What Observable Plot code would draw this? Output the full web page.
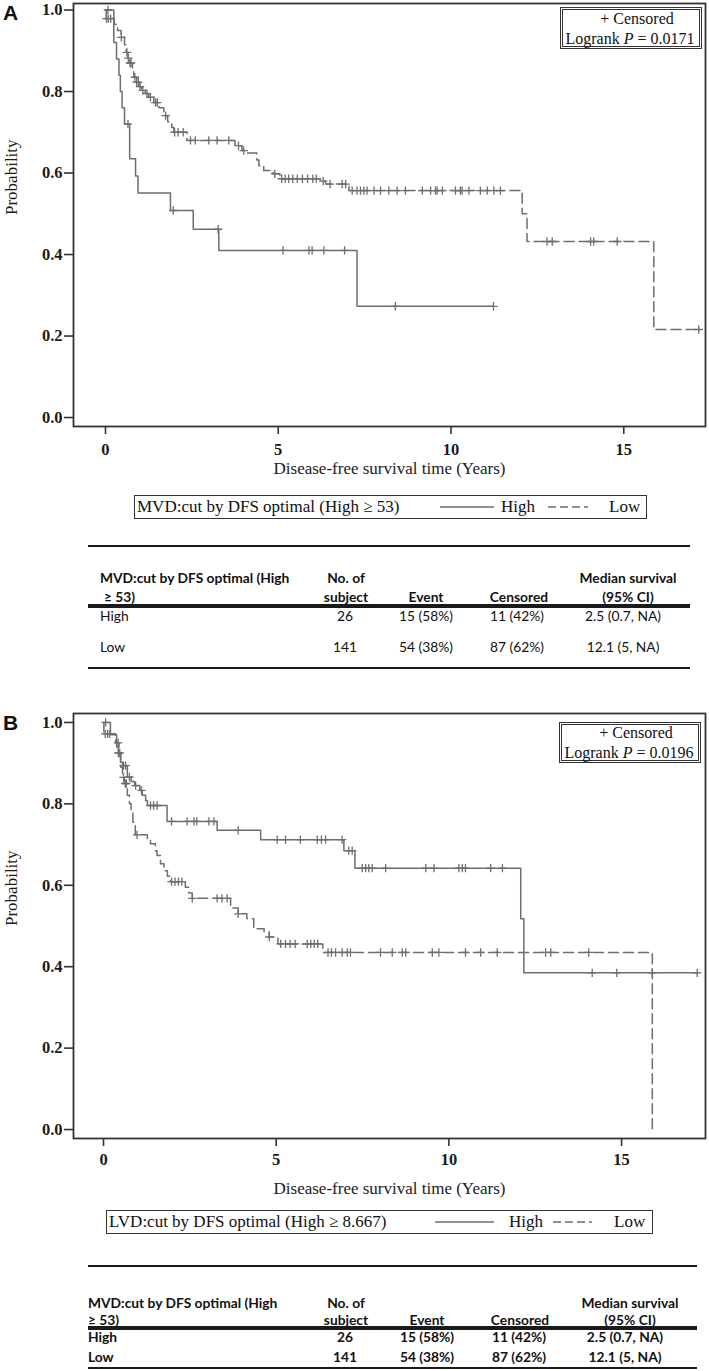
<!DOCTYPE html>
<html>
<head>
<meta charset="utf-8">
<script src="https://cdn.jsdelivr.net/npm/d3@7"></script>
<script src="https://cdn.jsdelivr.net/npm/@observablehq/plot@0.6"></script>
<style>
  body { margin: 0; background: #fff; }
  #page { position: relative; width: 709px; height: 1371px; overflow: hidden; background: #fff; color: #111; }
  .lbl { position: absolute; white-space: nowrap; line-height: 1.2; }
  .rule { position: absolute; background: #1a1a1a; }
  .box { position: absolute; box-sizing: border-box; }
</style>
</head>
<body>
<div id="page"></div>
<script>
// ---------------- DATA ----------------
// Axis ticks and titles
const xTicks = [0, 5, 10, 15];
const yTicks = [0, 0.2, 0.4, 0.6, 0.8, 1.0];
const xTitle = "Disease-free survival time (Years)";
const yTitle = "Probability";

// Panel A (MVD) – Kaplan–Meier steps: time (years) and survival probability
const aHighTimes = [0, 0.24, 0.32, 0.39, 0.43, 0.48, 0.55, 0.70, 0.87, 0.94, 1.88, 2.54, 3.28, 7.28];
const aHighSurv  = [1, 0.92, 0.88, 0.84, 0.80, 0.76, 0.72, 0.635, 0.593, 0.551, 0.508, 0.462, 0.410, 0.273];
const aHighCensor = [0.07, 0.65, 1.96, 3.26, 5.14, 5.89, 5.98, 6.32, 6.92, 8.39, 11.23];

const aLowTimes = [0, 0.02, 0.25, 0.35, 0.45, 0.55, 0.60, 0.65, 0.70, 0.78, 0.82, 0.90, 0.98, 1.05, 1.15, 1.25, 1.40, 1.55, 1.69, 1.80, 1.92, 1.98, 2.36, 3.75, 3.95, 4.05, 4.38, 4.44, 4.58, 4.85, 5.05, 6.22, 6.37, 7.05, 12.06, 12.20, 15.87];
const aLowSurv  = [1, 0.979, 0.965, 0.950, 0.933, 0.915, 0.896, 0.882, 0.870, 0.850, 0.835, 0.823, 0.812, 0.803, 0.795, 0.786, 0.773, 0.760, 0.741, 0.726, 0.712, 0.700, 0.680, 0.667, 0.655, 0.649, 0.632, 0.618, 0.606, 0.598, 0.586, 0.580, 0.573, 0.557, 0.500, 0.432, 0.216];
const aLowCensor = [0.03, 0.08, 0.15, 0.46, 0.62, 0.66, 0.71, 0.74, 0.85, 0.9, 0.95, 1.0, 1.08, 1.2, 1.3, 1.45, 1.5, 1.74, 2.0, 2.1, 2.25, 2.46, 2.6, 2.99, 3.23, 3.57, 3.85, 4.0, 4.9, 5.1, 5.2, 5.3, 5.42, 5.55, 5.7, 5.85, 6.0, 6.1, 6.3, 6.5, 6.85, 6.95, 7.14, 7.28, 7.38, 7.48, 7.57, 7.77, 7.96, 8.2, 8.44, 8.68, 9.17, 9.41, 9.55, 9.6, 9.75, 10.13, 10.27, 10.32, 10.52, 10.85, 11.05, 11.24, 11.43, 12.78, 12.93, 14.04, 14.13, 14.81, 17.17];

// Panel B (LVD)
const bHighTimes = [0, 0.2, 0.38, 0.43, 0.49, 0.55, 0.69, 0.80, 0.90, 1.05, 1.12, 1.22, 1.27, 1.84, 3.29, 4.55, 6.96, 7.28, 12.08, 12.17];
const bHighSurv  = [1, 0.970, 0.940, 0.925, 0.902, 0.894, 0.866, 0.855, 0.845, 0.833, 0.821, 0.808, 0.796, 0.757, 0.735, 0.712, 0.685, 0.642, 0.518, 0.385];
const bHighCensor = [0.06, 0.43, 0.58, 0.64, 0.75, 0.93, 1.1, 1.36, 1.45, 1.55, 1.97, 2.42, 2.62, 2.7, 3.05, 3.2, 3.9, 5.03, 5.27, 5.7, 6.19, 6.31, 6.43, 6.91, 7.1, 7.2, 7.49, 7.59, 7.68, 7.78, 8.17, 9.33, 9.57, 10.29, 10.39, 10.48, 11.21, 11.55, 14.15, 14.86, 15.89, 17.19];

const bLowTimes = [0, 0.01, 0.35, 0.45, 0.50, 0.55, 0.60, 0.69, 0.75, 0.80, 0.85, 0.92, 1.27, 1.36, 1.50, 1.55, 1.65, 1.75, 1.85, 1.94, 2.37, 2.47, 2.57, 3.68, 3.90, 4.15, 4.35, 4.65, 4.80, 5.05, 6.35, 15.89];
const bLowSurv  = [1, 0.972, 0.950, 0.925, 0.890, 0.865, 0.850, 0.821, 0.800, 0.780, 0.755, 0.724, 0.710, 0.702, 0.685, 0.673, 0.653, 0.636, 0.622, 0.609, 0.595, 0.581, 0.568, 0.544, 0.530, 0.518, 0.493, 0.485, 0.473, 0.456, 0.435, 0];
const bLowCensor = [0.05, 0.12, 0.18, 0.42, 0.47, 0.58, 0.63, 0.66, 0.97, 1.97, 2.07, 2.17, 2.27, 2.57, 3.29, 3.43, 3.58, 3.9, 4.8, 5.13, 5.27, 5.4, 5.55, 5.9, 6.0, 6.1, 6.2, 6.5, 6.6, 6.72, 6.91, 7.06, 7.15, 8.02, 8.36, 8.65, 8.75, 9.52, 9.71, 10.48, 10.92, 11.4, 12.8, 12.95, 14.05];

// Legend / annotation texts
const censorLabel = "+ Censored";
const aPValue = "0.0171";
const bPValue = "0.0196";
const aLegendTitle = "MVD:cut by DFS optimal (High \u2265 53)";
const bLegendTitle = "LVD:cut by DFS optimal (High \u2265 8.667)";
const groupNames = ["High", "Low"];

// Summary table (identical in both panels of the source figure)
const tableHeader1 = ["MVD:cut by DFS optimal (High", "No. of", "", "", "Median survival"];
const tableHeader2 = ["\u2265 53)", "subject", "Event", "Censored", "(95% CI)"];
const tableSubjects = ["26", "141"];
const tableEvents = ["15 (58%)", "54 (38%)"];
const tableCensored = ["11 (42%)", "87 (62%)"];
const tableMedian = ["2.5 (0.7, NA)", "12.1 (5, NA)"];

// ---------------- HELPERS ----------------
const SERIF = "'Liberation Serif', 'Times New Roman', serif";
const SANS = "'Liberation Sans', Arial, sans-serif";
const TABLE = "Lato, 'Open Sans', sans-serif";
const TSIZE = 13.8;
const LINE = "#6e6e6e";
const page = d3.select("#page");

function stepData(times, surv, censor) {
  const pts = times.map((t, i) => ({t, s: surv[i]}));
  const end = d3.max(censor);
  if (end > times[times.length - 1]) pts.push({t: end, s: surv[surv.length - 1]});
  return pts;
}
function censorData(times, surv, censor) {
  return censor.map(c => ({t: c, s: surv[d3.bisectRight(times, c) - 1]}));
}

function panel(cfg) {
  const marks = [];
  for (const s of cfg.series) {
    marks.push(Plot.line(stepData(s.times, s.surv, s.censor), {
      x: "t", y: "s", curve: "step-after", stroke: LINE, strokeWidth: 1.5,
      strokeDasharray: s.dash
    }));
    marks.push(Plot.dot(censorData(s.times, s.surv, s.censor), {
      x: "t", y: "s", symbol: "plus", r: 2.8, stroke: LINE, strokeWidth: 1.3
    }));
  }
  marks.push(Plot.frame({stroke: "#333", strokeWidth: 1.8}));
  marks.push(Plot.axisY({ticks: yTicks, tickFormat: d3.format(".1f"), tickSize: 9, tickPadding: 2,
    stroke: "#333", strokeWidth: 1.6, label: null, fontSize: 16.5, fontWeight: "bold", fill: "#1a1a1a"}));
  marks.push(Plot.axisX({ticks: xTicks, tickFormat: d => String(d), tickSize: 8, tickPadding: cfg.tickPad,
    stroke: "#333", strokeWidth: 1.6, label: null, fontSize: 16.5, fontWeight: "bold", fill: "#1a1a1a"}));
  marks.push(Plot.text([xTitle], {frameAnchor: "bottom", dy: cfg.titleDy, text: d => d,
    fontSize: 17, fontWeight: "normal", fill: "#1a1a1a"}));
  marks.push(Plot.text([yTitle], {frameAnchor: "left", dx: -62, rotate: -90, text: d => d,
    fontSize: 17, fontWeight: "normal", fill: "#1a1a1a"}));
  const svg = Plot.plot({
    width: 709, height: cfg.height,
    marginLeft: 73, marginRight: 4, marginTop: cfg.marginTop, marginBottom: cfg.marginBottom,
    x: {domain: cfg.xDomain}, y: {domain: cfg.yDomain},
    style: {fontFamily: SERIF, fontSize: "16px", fontWeight: "bold", color: "#1a1a1a",
      background: "none", overflow: "visible"},
    marks
  });
  svg.style.position = "absolute";
  svg.style.left = "0px";
  svg.style.top = cfg.top + "px";
  document.getElementById("page").appendChild(svg);
}

function label(html, x, y, o = {}) {
  const a = o.anchor || "start";
  const tx = a === "middle" ? "-50%" : a === "end" ? "-100%" : "0";
  page.append("div").attr("class", "lbl")
    .style("left", x + "px").style("top", y + "px")
    .style("transform", `translate(${tx},-50%)`)
    .style("font-family", o.font || SERIF)
    .style("font-size", (o.size || 16) + "px")
    .style("font-weight", o.weight || "normal")
    .html(html);
}
function rule(x1, x2, y, h) {
  page.append("div").attr("class", "rule")
    .style("left", x1 + "px").style("width", (x2 - x1) + "px")
    .style("top", (y - h / 2) + "px").style("height", h + "px");
}
function box(x1, y1, x2, y2, border) {
  page.append("div").attr("class", "box")
    .style("left", x1 + "px").style("top", y1 + "px")
    .style("width", (x2 - x1) + "px").style("height", (y2 - y1) + "px")
    .style("border", border);
}
function sample(x1, x2, y, dash) {
  const s = page.append("svg").style("position", "absolute")
    .style("left", x1 + "px").style("top", (y - 3) + "px")
    .attr("width", x2 - x1).attr("height", 6);
  s.append("line").attr("x1", 0).attr("x2", x2 - x1).attr("y1", 3).attr("y2", 3)
    .attr("stroke", LINE).attr("stroke-width", 1.4).attr("stroke-dasharray", dash || null);
}

function annotations(c) {
  // panel letter
  label(c.letter, 3, c.letterY, {font: SANS, size: 21, weight: "bold"});
  // censor / logrank box
  box(c.cbox[0], c.cbox[1], c.cbox[2], c.cbox[3], "3px double #333");
  label(censorLabel, c.cText1[0], c.cText1[1], {anchor: "middle", size: 16});
  label("Logrank <i>P</i> = " + c.p, c.cText2[0], c.cText2[1], {anchor: "middle", size: 16});
  // group legend
  box(c.lbox[0], c.lbox[1], c.lbox[2], c.lbox[3], "1.4px solid #333");
  const ly = (c.lbox[1] + c.lbox[3]) / 2;
  label(c.legendTitle, c.lbox[0] + 3, ly, {size: 17});
  sample(c.solid[0], c.solid[1], ly, null);
  label(groupNames[0], c.highX, ly, {size: 17});
  sample(c.dashed[0], c.dashed[1], ly, "8,4");
  label(groupNames[1], c.lowX, ly, {size: 17});
  // table
  const t = c.table;
  rule(t.x1, t.x2, t.top, 1.8);
  label(tableHeader1[0], t.c0, t.h1, {font: TABLE, size: TSIZE, weight: "bold"});
  label(tableHeader2[0], t.c0b, t.h2, {font: TABLE, size: TSIZE, weight: "bold"});
  for (let j = 1; j < 5; j++) {
    if (tableHeader1[j]) label(tableHeader1[j], t.cols[j - 1], t.h1, {font: TABLE, size: TSIZE, weight: "bold", anchor: "middle"});
    label(tableHeader2[j], t.cols[j - 1], t.h2, {font: TABLE, size: TSIZE, weight: "bold", anchor: "middle"});
  }
  rule(t.x1, t.x2, t.thick, 3.4);
  groupNames.forEach((g, i) => {
    const y = t.rows[i];
    const w = t.rowWeight;
    label(g, t.c0, y, {font: TABLE, size: TSIZE, weight: w});
    label(tableSubjects[i], t.vals[0], y, {font: TABLE, size: TSIZE, weight: w, anchor: "middle"});
    label(tableEvents[i], t.vals[1], y, {font: TABLE, size: TSIZE, weight: w, anchor: "middle"});
    label(tableCensored[i], t.vals[2], y, {font: TABLE, size: TSIZE, weight: w, anchor: "middle"});
    label(tableMedian[i], t.vals[3], y, {font: TABLE, size: TSIZE, weight: w, anchor: "middle"});
  });
  rule(t.x1, t.x2, t.bottom, 1.8);
}

// ---------------- PANEL A ----------------
panel({
  top: 0, height: 490, marginTop: 3, marginBottom: 64,
  xDomain: [-0.926, 17.366], yDomain: [-0.022, 1.016], tickPad: 9, titleDy: 47,
  series: [
    {times: aHighTimes, surv: aHighSurv, censor: aHighCensor, dash: undefined},
    {times: aLowTimes, surv: aLowSurv, censor: aLowCensor, dash: "10,5"}
  ]
});
annotations({
  letter: "A", letterY: 13, p: aPValue,
  cbox: [560, 7, 702, 49], cText1: [637, 19], cText2: [630, 39],
  lbox: [134, 495, 647, 519], legendTitle: aLegendTitle,
  solid: [440, 494], highX: 501, dashed: [548, 588], lowX: 609,
  table: {x1: 88, x2: 690, top: 546, h1: 578, h2: 597, thick: 606, rows: [616, 647], bottom: 668,
    c0: 100, c0b: 104, cols: [346, 426, 519, 628], vals: [345, 426, 517, 623], rowWeight: "normal"}
});

// ---------------- PANEL B ----------------
panel({
  top: 710, height: 500, marginTop: 3, marginBottom: 72,
  xDomain: [-0.869, 17.43], yDomain: [-0.022, 1.022], tickPad: 7, titleDy: 55,
  series: [
    {times: bHighTimes, surv: bHighSurv, censor: bHighCensor, dash: undefined},
    {times: bLowTimes, surv: bLowSurv, censor: bLowCensor, dash: "10,5"}
  ]
});
annotations({
  letter: "B", letterY: 723, p: bPValue,
  cbox: [559, 722, 701, 763], cText1: [636, 733], cText2: [629, 753],
  lbox: [106, 1210, 653, 1234], legendTitle: bLegendTitle,
  solid: [435, 494], highX: 509, dashed: [553, 592], lowX: 614,
  table: {x1: 88, x2: 697, top: 1266, h1: 1303, h2: 1320, thick: 1328, rows: [1337, 1357], bottom: 1368,
    c0: 88, c0b: 88, cols: [346, 427, 520, 630], vals: [345, 427, 519, 625], rowWeight: "bold"}
});
</script>
</body>
</html>
